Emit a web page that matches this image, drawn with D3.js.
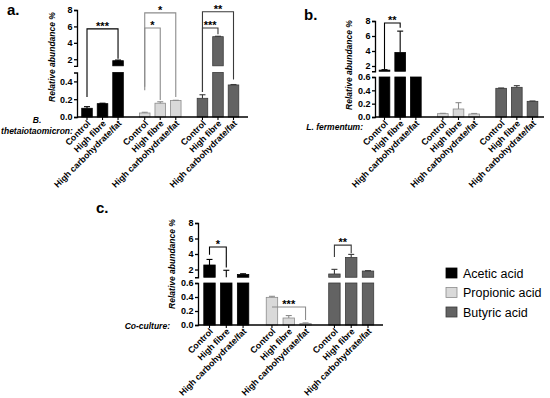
<!DOCTYPE html>
<html><head><meta charset="utf-8">
<script src="https://cdn.jsdelivr.net/npm/d3@7"></script>
<style>
body{margin:0;background:#fff;}
svg{display:block;font-family:"Liberation Sans",Arial,sans-serif;}
</style></head>
<body><svg id="c" width="550" height="398"></svg>
<script>
// ---------- data ----------
const acids = ["Acetic acid", "Propionic acid", "Butyric acid"];
const treatments = ["Control", "High fibre", "High carbohydrate/fat"];
const lowerTicksA = [0, 0.2, 0.4];
const lowerTicksBC = [0, 0.2, 0.4, 0.6];
const upperTicks = [2, 4, 6, 8];

// means and SD in order: acetic(C,HF,HCF), propionic(...), butyric(...)
const thetaMean = [0.098, 0.15, 1.82, 0.045, 0.155, 0.185, 0.21, 4.75, 0.36];
const thetaSD   = [0.018, 0.005, 0.08, 0.008, 0.016, 0.003, 0.04, 0.05, 0.005];
const fermMean  = [1.45, 3.8, 1.0, 0.05, 0.12, 0.045, 0.43, 0.445, 0.235];
const fermSD    = [0.06, 2.85, 0.0, 0.005, 0.095, 0.008, 0.005, 0.025, 0.005];
const coMean    = [2.58, 0.9, 1.35, 0.395, 0.1, 0.02, 1.42, 3.55, 1.8];
const coSD      = [0.72, 1.0, 0.1, 0.015, 0.035, 0.01, 0.6, 0.4, 0.05];

// significance brackets: [fromBar, toBar, topValue, leftEndValue, rightEndValue, label]
const thetaSig = [[0, 2, 5.7, 0.225, 2.05, "***"], [3, 4, 5.8, 0.3, 0.19, "*"], [3, 5, 7.65, 0.34, 0.225, "*"],
                  [6, 7, 5.8, 0.28, 5.05, "***"], [6, 8, 7.78, 0.28, 0.42, "**"]];
const fermSig  = [[0, 1, 7.73, 1.6, 7.1, "**"]];
const coSig    = [[0, 1, 4.9, 3.9, 2.25, "*"], [3, 5, 0.257, 0.257, 0.07, "***"], [6, 7, 5.15, 3.6, 4.1, "**"]];

// ---------- styles ----------
const fills   = ["#000000", "#d9d9d9", "#636363"];
const strokes = ["#000000", "#8c8c8c", "#3a3a3a"];

const svg = d3.select("#c");
const FONT = '"Liberation Sans",Arial,sans-serif';

function panel(cfg) {
  const g = svg.append("g");
  const low = d3.scaleLinear().domain([0, cfg.lowMax]).range(cfg.lowRange);
  const up = d3.scaleLinear().domain([cfg.upMin, 8]).range(cfg.upRange);
  const yv = v => v <= cfg.lowMax ? low(v) : (v >= cfg.upMin ? up(v) : low(cfg.lowMax));
  const gap = 0.72;
  const pos = i => Math.floor(i / 3) * (3 + gap) + (i % 3);
  const x = d3.scaleLinear().domain([0, 8 + 2 * gap]).range(cfg.xRange);
  const step = x(1) - x(0);
  const bw = step * 0.68;
  const base = low(0);

  // bars
  cfg.mean.forEach((m, i) => {
    const a = Math.floor(i / 3);
    const cx = x(pos(i));
    const topLow = low(Math.min(m, cfg.lowMax));
    g.append("rect").attr("x", cx - bw / 2).attr("y", topLow).attr("width", bw).attr("height", base - topLow)
      .attr("fill", fills[a]).attr("stroke", strokes[a]).attr("stroke-width", 0.8);
    if (m > cfg.upMin) {
      g.append("rect").attr("x", cx - bw / 2).attr("y", up(m)).attr("width", bw).attr("height", up(cfg.upMin) - up(m))
        .attr("fill", fills[a]).attr("stroke", strokes[a]).attr("stroke-width", 0.8);
    }
    const sd = cfg.sd[i];
    if (sd > 0) {
      const e = m + sd;
      let y1, y2;
      if (e <= cfg.lowMax) { y1 = low(m); y2 = low(e); }
      else if (m >= cfg.upMin) { y1 = up(m); y2 = up(e); }
      else { y1 = up(cfg.upMin); y2 = up(e); }
      g.append("line").attr("x1", cx).attr("x2", cx).attr("y1", y1).attr("y2", y2)
        .attr("stroke", strokes[a]).attr("stroke-width", 1.1);
      g.append("line").attr("x1", cx - 3).attr("x2", cx + 3).attr("y1", y2).attr("y2", y2)
        .attr("stroke", strokes[a]).attr("stroke-width", 1.1);
    }
  });

  // x axis
  g.append("line").attr("x1", cfg.axisX).attr("x2", cfg.xEnd).attr("y1", base).attr("y2", base)
    .attr("stroke", "#000").attr("stroke-width", 1.3);
  cfg.mean.forEach((m, i) => {
    const cx = x(pos(i));
    g.append("line").attr("x1", cx).attr("x2", cx).attr("y1", base).attr("y2", base + 3)
      .attr("stroke", "#000").attr("stroke-width", 1.1);
    g.append("text").attr("transform", `translate(${cx + 4},${base + 7}) rotate(-45)`)
      .attr("text-anchor", "end").attr("font-size", 8.8).attr("font-weight", "bold")
      .attr("font-family", FONT).text(treatments[i % 3]);
  });

  // y axis segments
  const gl = g.append("g").attr("transform", `translate(${cfg.axisX},0)`)
    .call(d3.axisLeft(low).tickValues(cfg.lowTicks).tickFormat(d3.format(".1f")).tickSize(3).tickSizeOuter(3));
  const gu = g.append("g").attr("transform", `translate(${cfg.axisX},0)`)
    .call(d3.axisLeft(up).tickValues(upperTicks).tickFormat(d3.format("d")).tickSize(3).tickSizeOuter(3));
  [gl, gu].forEach(ax => {
    ax.selectAll("path,line").attr("stroke", "#000").attr("stroke-width", 1.3);
    ax.selectAll("text").attr("font-size", 9).attr("font-weight", "bold").attr("font-family", FONT).attr("fill", "#000").attr("x", -4.5);
  });

  // y title
  g.append("text").attr("transform", `translate(${cfg.titleX},${cfg.titleY}) rotate(-90)`)
    .attr("text-anchor", "middle").attr("font-size", 8.5).attr("font-weight", "bold").attr("font-style", "italic")
    .attr("font-family", FONT).text("Relative abundance %");

  // significance brackets
  cfg.sig.forEach(([f, t, top, le, re, lab]) => {
    const a = Math.floor(f / 3);
    const xl = x(pos(f)), xr = x(pos(t));
    const yt = yv(top);
    g.append("path").attr("d", `M${xl},${yv(le)}V${yt}H${xr}V${yv(re)}`)
      .attr("fill", "none").attr("stroke", strokes[a]).attr("stroke-width", 1.1);
    g.append("text").attr("x", (xl + xr) / 2).attr("y", yt + 1).attr("text-anchor", "middle")
      .attr("font-size", 11).attr("font-weight", "bold").attr("font-family", FONT).text(lab);
  });

  g.append("text").attr("x", cfg.labX).attr("y", cfg.labY).attr("font-size", 15).attr("font-weight", "bold")
    .attr("font-family", FONT).text(cfg.label);
  return g;
}

panel({ mean: thetaMean, sd: thetaSD, sig: thetaSig, lowMax: 0.5, upMin: 1.2, lowTicks: lowerTicksA,
  lowRange: [117, 72.5], upRange: [65.8, 10], xRange: [87, 233.5], axisX: 77, xEnd: 248,
  titleX: 55, titleY: 57, label: "a.", labX: 7, labY: 15 });
panel({ mean: fermMean, sd: fermSD, sig: fermSig, lowMax: 0.6, upMin: 1.3, lowTicks: lowerTicksBC,
  lowRange: [117, 77], upRange: [71.25, 21], xRange: [384.5, 532.5], axisX: 375, xEnd: 544,
  titleX: 352, titleY: 65, label: "b.", labX: 304, labY: 20 });
panel({ mean: coMean, sd: coSD, sig: coSig, lowMax: 0.6, upMin: 1.0, lowTicks: lowerTicksBC,
  lowRange: [325, 283], upRange: [277.25, 223], xRange: [209.5, 368], axisX: 198, xEnd: 383,
  titleX: 175, titleY: 264, label: "c.", labX: 96, labY: 213 });

// row labels
const rl = svg.append("g").attr("font-family", FONT).attr("font-size", 8.5).attr("font-weight", "bold").attr("font-style", "italic");
rl.append("text").attr("x", 37).attr("y", 123).attr("text-anchor", "middle").text("B.");
rl.append("text").attr("x", 37).attr("y", 133.5).attr("text-anchor", "middle").text("thetaiotaomicron:");
rl.append("text").attr("x", 363).attr("y", 130).attr("text-anchor", "end").text("L. fermentum:");
rl.append("text").attr("x", 170).attr("y", 329).attr("text-anchor", "end").text("Co-culture:");

// legend
const lg = svg.append("g").attr("font-family", FONT);
acids.forEach((a, i) => {
  const cy = 273 + i * 19.5;
  lg.append("rect").attr("x", 446).attr("y", cy - 5).attr("width", 11).attr("height", 10)
    .attr("fill", fills[i]).attr("stroke", strokes[i]).attr("stroke-width", 0.8);
  lg.append("text").attr("x", 463).attr("y", cy).attr("dy", "0.36em").attr("font-size", 12.5).text(a);
});
</script></body></html>
